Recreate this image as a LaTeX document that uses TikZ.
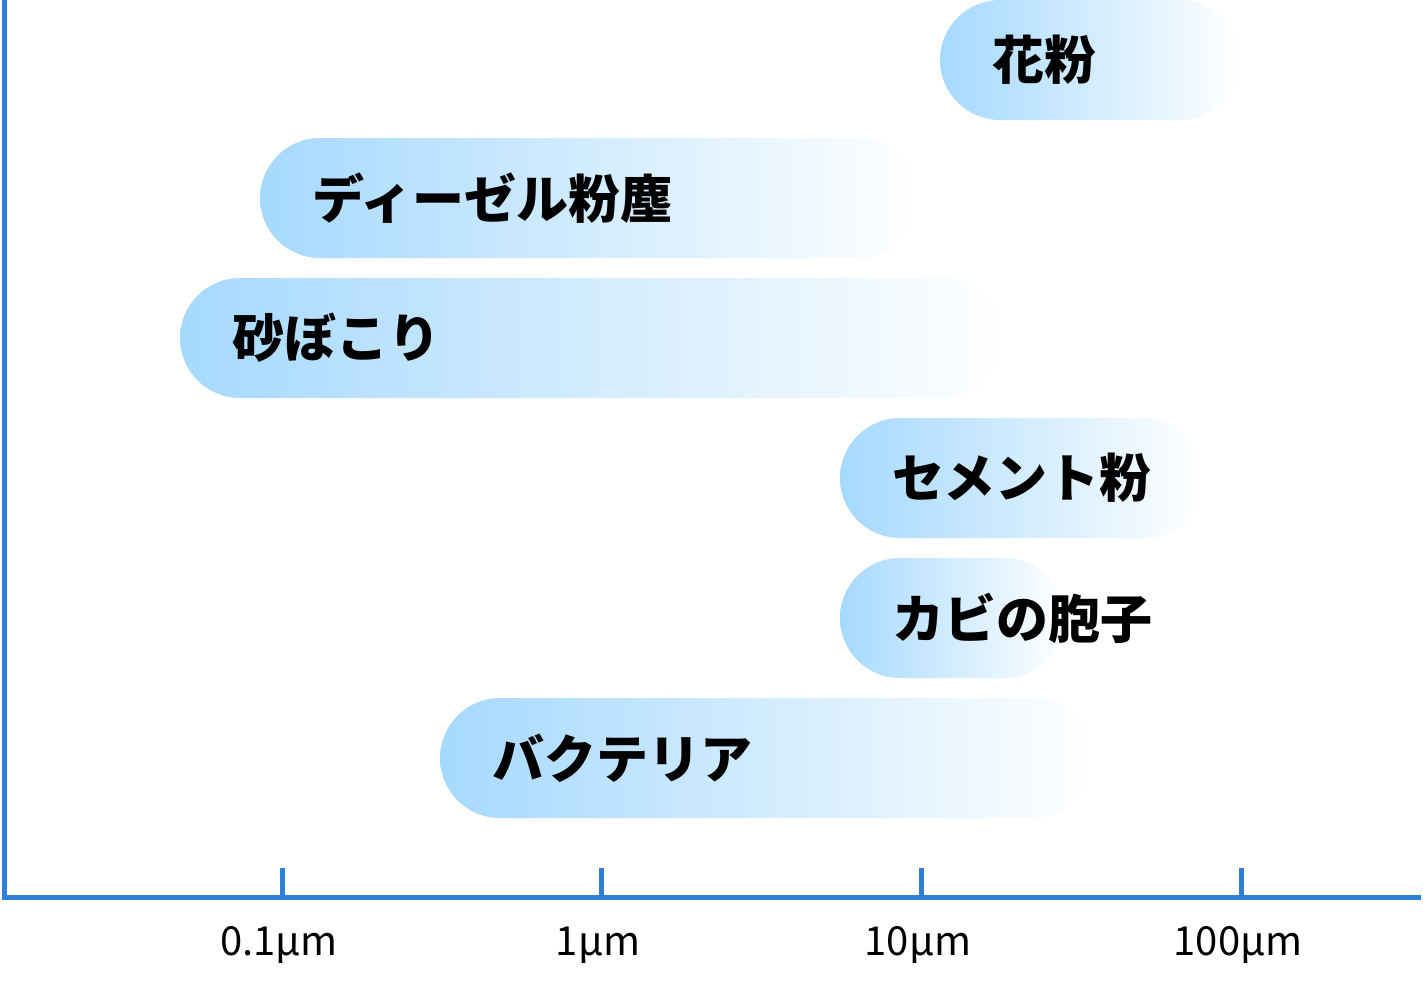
\documentclass[tikz,border=0pt]{standalone}
\usepackage{fontspec}
\setmainfont{Noto Sans CJK JP}
\definecolor{axisblue}{HTML}{2F7FD8}
\definecolor{barblue}{HTML}{A6D9FF}
\begin{document}
\begin{tikzpicture}[x=1pt,y=-1pt,
  bar/.style={left color=barblue,right color=white,rounded corners=60pt},
  lbl/.style={anchor=west,inner sep=0pt,font=\fontsize{52}{60}\selectfont\bfseries},
  tick/.style={font=\fontsize{40}{46}\selectfont}]
\useasboundingbox (0,0) rectangle (1423,980);
\shade[bar] (940,0) rectangle (1240,120);
\node[lbl] (a) at (992,60) {花粉};
\shade[bar] (260,138) rectangle (920,258);
\node[lbl] (b) at (312,198) {ディーゼル粉塵};
\shade[bar] (180,278) rectangle (1005,398);
\node[lbl] (c) at (232,338) {砂ぼこり};
\shade[bar] (840,418) rectangle (1205,538);
\node[lbl] (d) at (892,478) {セメント粉};
\shade[bar] (840,558) rectangle (1065,678);
\node[lbl] (e) at (892,618) {カビの胞子};
\shade[bar] (440,698) rectangle (1095,818);
\node[lbl] (f) at (492,758) {バクテリア};
\draw[axisblue,line width=5pt] (4,0) -- (4,897) -- (1421,897);
\foreach \x/\t [count=\i] in {282/0.1µm,601/1µm,921/10µm,1241/100µm}{
  \draw[axisblue,line width=5pt] (\x,868) -- (\x,897);
  \node[tick] (t\i) at (\x-3,945) {\t};
}
\end{tikzpicture}
\end{document}
